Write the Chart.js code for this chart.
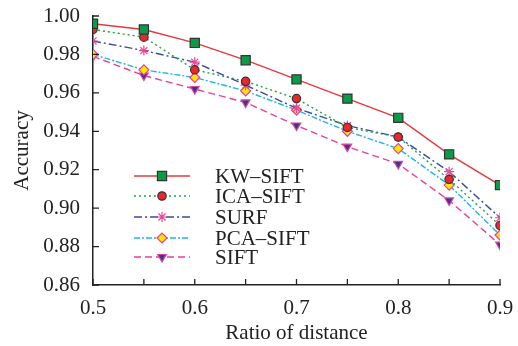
<!DOCTYPE html>
<html>
<head>
<meta charset="utf-8">
<script src="https://cdn.jsdelivr.net/npm/chart.js@4/dist/chart.umd.min.js"></script>
<style>
  html, body { margin: 0; padding: 0; background: #fff; }
</style>
</head>
<body>
<canvas id="chart" width="518" height="346"></canvas>
<script>
// ratio of distance (x) and accuracy per method
const ratios = [0.5, 0.55, 0.6, 0.65, 0.7, 0.75, 0.8, 0.85, 0.9];
const kwSift  = [0.996, 0.993, 0.986, 0.977, 0.967, 0.957, 0.947, 0.928, 0.912];
const icaSift = [0.993, 0.989, 0.972, 0.966, 0.957, 0.942, 0.937, 0.915, 0.891];
const surf    = [0.987, 0.982, 0.976, 0.964, 0.952, 0.943, 0.937, 0.919, 0.895];
const pcaSift = [0.980, 0.972, 0.968, 0.961, 0.951, 0.940, 0.931, 0.912, 0.886];
const sift    = [0.979, 0.969, 0.962, 0.955, 0.943, 0.932, 0.923, 0.904, 0.881];
const names   = ['KW\u2013SIFT', 'ICA\u2013SIFT', 'SURF', 'PCA\u2013SIFT', 'SIFT'];

const serif = '"Liberation Serif", "DejaVu Serif", serif';
const toPts = arr => arr.map((v, i) => ({ x: ratios[i], y: v }));

const datasets = [
  { label: names[0], data: toPts(kwSift), borderColor: '#e8383a', borderDash: [],
    pointStyle: 'rect', pointRadius: 6.5, pointBackgroundColor: '#0a9a48', pointBorderColor: '#333', pointRotation: 0 },
  { label: names[1], data: toPts(icaSift), borderColor: '#22a050', borderDash: [2, 3],
    pointStyle: 'circle', pointRadius: 4.2, pointBackgroundColor: '#e8282a', pointBorderColor: '#333', pointRotation: 0 },
  { label: names[2], data: toPts(surf), borderColor: '#3c4a9c', borderDash: [8, 3, 2, 3],
    pointStyle: 'star', pointRadius: 5, pointBackgroundColor: '#e84898', pointBorderColor: '#e84898', pointRotation: 0 },
  { label: names[3], data: toPts(pcaSift), borderColor: '#20b4e8', borderDash: [6, 2, 2, 2],
    pointStyle: 'rectRot', pointRadius: 5, pointBackgroundColor: '#ffe600', pointBorderColor: '#e8409a', pointRotation: 0 },
  { label: names[4], data: toPts(sift), borderColor: '#e8409a', borderDash: [7, 4],
    pointStyle: 'triangle', pointRadius: 5, pointBackgroundColor: '#3a3a90', pointBorderColor: '#e8409a', pointRotation: 180 }
].map(d => Object.assign(d, { borderWidth: 1.4, pointBorderWidth: 1.2, fill: false, tension: 0 }));

// ticks pointing into the plot
const inwardTicks = {
  id: 'inwardTicks',
  afterDraw(chart) {
    const { ctx, chartArea, scales } = chart;
    ctx.save();
    ctx.strokeStyle = '#222';
    ctx.lineWidth = 1.3;
    ctx.beginPath();
    scales.y.ticks.forEach(t => {
      const y = scales.y.getPixelForValue(t.value);
      ctx.moveTo(chartArea.left, y);
      ctx.lineTo(chartArea.left + 6, y);
    });
    scales.x.ticks.forEach(t => {
      const x = scales.x.getPixelForValue(t.value);
      ctx.moveTo(x, chartArea.bottom);
      ctx.lineTo(x, chartArea.bottom - 6);
    });
    ctx.stroke();
    ctx.restore();
  }
};

// legend inside the plot, lower left
const innerLegend = {
  id: 'innerLegend',
  afterDatasetsDraw(chart) {
    const ctx = chart.ctx;
    const rows = [176, 196, 217, 238, 257];
    ctx.save();
    chart.data.datasets.forEach((ds, i) => {
      const y = rows[i];
      ctx.strokeStyle = ds.borderColor;
      ctx.lineWidth = ds.borderWidth;
      ctx.setLineDash(ds.borderDash);
      ctx.beginPath();
      ctx.moveTo(134, y);
      ctx.lineTo(190, y);
      ctx.stroke();
      ctx.setLineDash([]);
      ctx.fillStyle = ds.pointBackgroundColor;
      ctx.strokeStyle = ds.pointBorderColor;
      ctx.lineWidth = ds.pointBorderWidth;
      Chart.helpers.drawPoint(ctx, {
        pointStyle: ds.pointStyle, rotation: ds.pointRotation,
        radius: ds.pointRadius, borderWidth: ds.pointBorderWidth
      }, 162, y);
      ctx.fillStyle = '#222';
      ctx.font = '21px ' + serif;
      ctx.textAlign = 'left';
      ctx.textBaseline = 'middle';
      ctx.fillText(ds.label, 215, y + 1);
    });
    ctx.restore();
  }
};

new Chart(document.getElementById('chart'), {
  type: 'line',
  data: { datasets },
  plugins: [inwardTicks, innerLegend],
  options: {
    responsive: false,
    animation: false,
    devicePixelRatio: 1,
    layout: { padding: { top: 16, right: 18, left: 0, bottom: 0 } },
    plugins: { legend: { display: false }, tooltip: { enabled: false } },
    scales: {
      x: {
        type: 'linear', min: 0.5, max: 0.9,
        afterFit: s => { s.height = 61; s.paddingLeft = 0; s.paddingRight = 0; },
        grid: { drawOnChartArea: false, drawTicks: false },
        border: { color: '#222', width: 1.5 },
        ticks: {
          stepSize: 0.05, padding: 11, color: '#222', maxRotation: 0, autoSkip: false,
          font: { family: serif, size: 21 },
          callback: v => (Math.round(v * 100) % 10 === 0 ? v.toFixed(1) : '')
        },
        title: { display: true, text: 'Ratio of distance', color: '#222',
                 font: { family: serif, size: 21 }, padding: { top: 0, bottom: 0 } }
      },
      y: {
        min: 0.86, max: 1.0,
        afterFit: s => { s.width = 93; s.paddingTop = 0; s.paddingBottom = 0; },
        grid: { drawOnChartArea: false, drawTicks: false },
        border: { color: '#222', width: 1.5 },
        ticks: {
          stepSize: 0.02, padding: 13, color: '#222',
          font: { family: serif, size: 21 },
          callback: v => v.toFixed(2)
        },
        title: { display: true, text: 'Accuracy', color: '#222',
                 font: { family: serif, size: 21 }, padding: { top: 10, bottom: 0 } }
      }
    }
  }
});
</script>
</body>
</html>
